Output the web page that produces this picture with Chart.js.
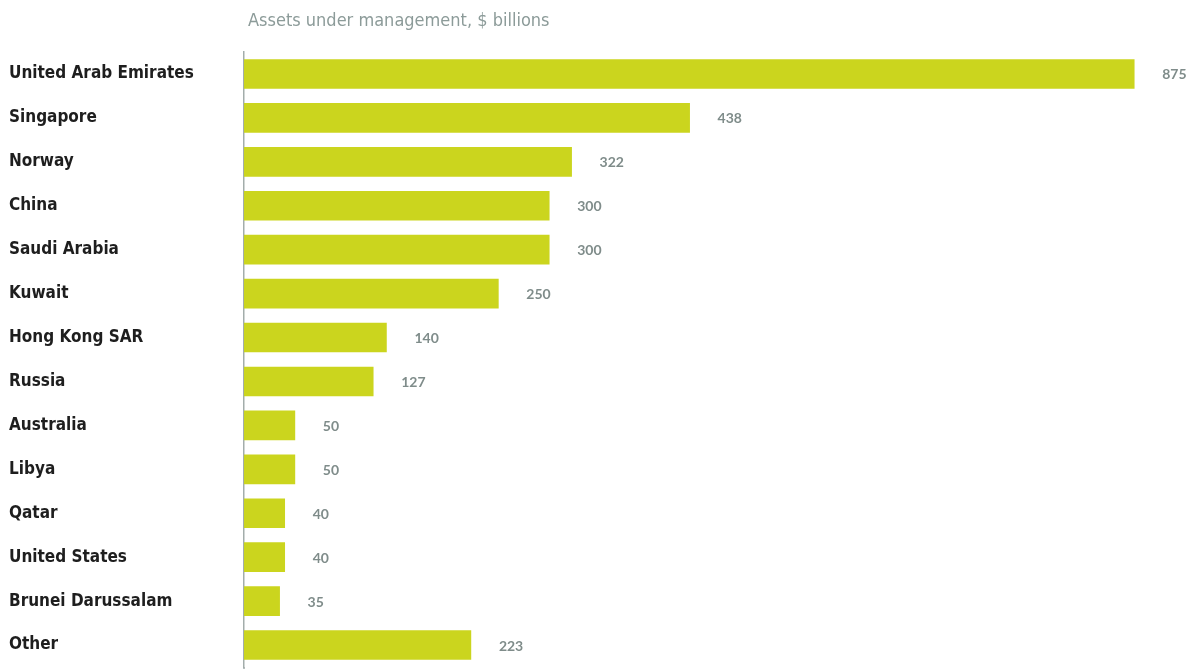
<!DOCTYPE html>
<html>
<head>
<meta charset="utf-8">
<script src="https://cdn.jsdelivr.net/npm/chart.js@4.4.1/dist/chart.umd.min.js"></script>
<style>
html,body{margin:0;padding:0;background:#fff;}
#wrap{position:relative;width:1189px;height:669px;}
</style>
</head>
<body>
<div id="wrap"><canvas id="c" width="1189" height="669"></canvas></div>
<script>
const categories = ["United Arab Emirates","Singapore","Norway","China","Saudi Arabia","Kuwait","Hong Kong SAR","Russia","Australia","Libya","Qatar","United States","Brunei Darussalam","Other"];
const assets = [875,438,322,300,300,250,140,127,50,50,40,40,35,223];
const titleText = "Assets under management, $ billions";

const LABEL_FONT = '"DejaVu Sans Condensed", sans-serif';

const overlay = {
  id: 'overlay',
  afterDatasetsDraw(chart) {
    const ctx = chart.ctx;
    const meta = chart.getDatasetMeta(0);
    ctx.save();
    ctx.font = 'bold 14px Lato, "Open Sans", sans-serif';
    ctx.fillStyle = '#7f8c8a';
    ctx.textBaseline = 'middle';
    ctx.textAlign = 'left';
    meta.data.forEach((bar, i) => {
      ctx.fillText(String(assets[i]), bar.x + 28, bar.y + 1);
    });
    ctx.font = '18px ' + LABEL_FONT;
    ctx.fillStyle = '#8c9b99';
    ctx.textBaseline = 'middle';
    ctx.fillText(titleText, chart.chartArea.left + 4, 21);
    ctx.strokeStyle = '#a3adab';
    ctx.lineWidth = 1.5;
    ctx.beginPath();
    ctx.moveTo(chart.chartArea.left, chart.chartArea.bottom);
    ctx.lineTo(chart.chartArea.left, chart.height);
    ctx.stroke();
    ctx.restore();
  }
};

new Chart(document.getElementById('c'), {
  type: 'bar',
  data: {
    labels: categories,
    datasets: [{
      data: assets,
      backgroundColor: '#cbd51e',
      borderWidth: 0,
      barThickness: 29
    }]
  },
  options: {
    indexAxis: 'y',
    responsive: false,
    animation: false,
    layout: { padding: { top: 52, bottom: 2, left: 9, right: 9 } },
    plugins: { legend: { display: false }, tooltip: { enabled: false }, title: { display: false } },
    scales: {
      x: {
        min: 0, max: 920,
        display: false,
        grid: { display: false }
      },
      y: {
        grid: { display: false, drawTicks: false },
        border: { display: true, color: '#a3adab', width: 1.5 },
        ticks: {
          crossAlign: 'far',
          color: '#1e1e1e',
          padding: 0,
          font: { family: LABEL_FONT, size: 17, weight: 'bold' }
        },
        afterFit(scale) { scale.width = 235; scale.paddingTop = 0; scale.paddingBottom = 0; }
      }
    }
  },
  plugins: [overlay]
});
</script>
</body>
</html>
